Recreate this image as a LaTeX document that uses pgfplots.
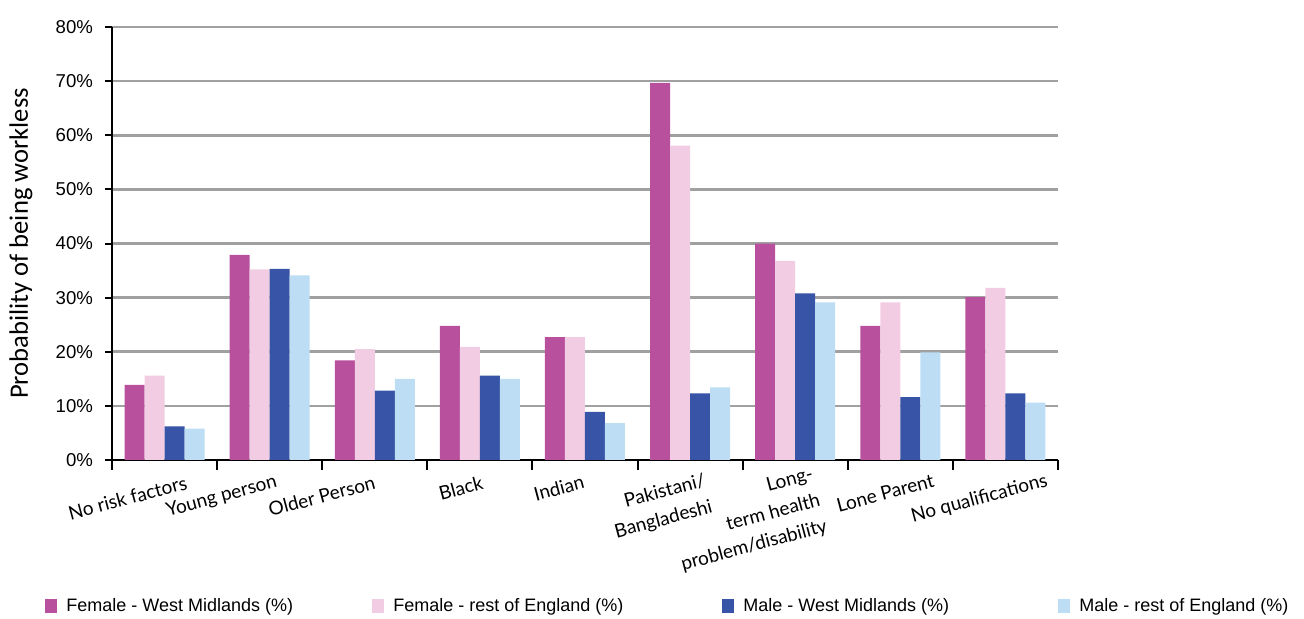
\documentclass[border=0pt]{standalone}
\usepackage{fontspec}
\setmainfont{Liberation Sans}
\newfontfamily\catfont{Lato}
\newfontfamily\labfont{Carlito}
\usepackage{pgfplots}
\pgfplotsset{compat=1.18}

\definecolor{fwm}{HTML}{B8509E}
\definecolor{frest}{HTML}{F2CCE3}
\definecolor{mwm}{HTML}{3754A6}
\definecolor{mrest}{HTML}{BDDDF4}
\definecolor{gridgray}{HTML}{A0A0A0}

\begin{document}
\begin{tikzpicture}
\path[use as bounding box] (-56pt,-79.5pt) rectangle (596pt,230pt);
\begin{axis}[
  width=473pt, height=216.5pt, scale only axis,
  ybar=0pt, bar width=10pt,
  xmin=-0.5, xmax=8.5, ymin=0, ymax=80,
  axis lines*=left,
  axis line style={line width=1pt, black},
  tick align=outside,
  major tick length=3.5pt,
  minor tick length=5pt,
  tick style={line width=1pt, black},
  ytick={0,10,...,80},
  yticklabels={0\%,10\%,20\%,30\%,40\%,50\%,60\%,70\%,80\%},
  yticklabel style={font=\fontsize{9.3}{10}\selectfont, xshift=-2.5pt},
  ymajorgrids,
  major grid style={line width=1.3pt, gridgray},
  xtick={0,...,8},
  every major x tick/.style={draw=none},
  minor xtick={-0.5,0.5,...,8.5},
  xticklabels={No risk factors, Young person, Older Person, Black, Indian,
    {Pakistani/\\Bangladeshi}, {Long-\\term health\\problem/disability},
    Lone Parent, No qualifications},
  xticklabel style={
    xshift={{-18.5,-24,-26.5,-9.5,-13,-15,-24,-7.5,-13}[\ticknum]*1pt},
    yshift={{-15.5,-15,-14.5,-10.5,-10.5,-20,-26.5,-13,-16}[\ticknum]*1pt},
    rotate=15, anchor=center, align=right,
    font=\catfont\fontsize{9.5}{13.5}\selectfont},
  ylabel={Probability of being workless},
  ylabel style={at={(axis description cs:-0.0962,0.5)}, anchor=center,
    font=\labfont\fontsize{13.3}{14}\selectfont},
  legend columns=4,
  legend style={at={(axis description cs:0,0)}, anchor=west,
    xshift=-33.5pt, yshift=-73pt, draw=none, inner sep=0pt,
    font=\fontsize{9}{10}\selectfont,
    nodes={inner sep=0pt},
    /tikz/every odd column/.append style={column sep=4.5pt}},
  legend cell align=left,
  legend image code/.code={\fill[#1] (0pt,-3.5pt) rectangle (6pt,3.5pt);},
]
\addplot[fill=fwm, draw=none] coordinates {
  (0,13.9) (1,37.9) (2,18.4) (3,24.8) (4,22.7) (5,69.7) (6,40.0) (7,24.8) (8,30.1)};
\addplot[fill=frest, draw=none] coordinates {
  (0,15.6) (1,35.2) (2,20.5) (3,20.9) (4,22.7) (5,58.1) (6,36.8) (7,29.1) (8,31.8)};
\addplot[fill=mwm, draw=none] coordinates {
  (0,6.2) (1,35.3) (2,12.8) (3,15.6) (4,8.9) (5,12.3) (6,30.8) (7,11.6) (8,12.3)};
\addplot[fill=mrest, draw=none] coordinates {
  (0,5.8) (1,34.1) (2,15.0) (3,15.0) (4,6.8) (5,13.4) (6,29.1) (7,19.9) (8,10.6)};
\legend{\makebox[153pt][l]{Female - West Midlands (\%)},
  \makebox[164.5pt][l]{Female - rest of England (\%)},
  \makebox[157.5pt][l]{Male - West Midlands (\%)},
  Male - rest of England (\%)}
\end{axis}
\end{tikzpicture}
\end{document}
